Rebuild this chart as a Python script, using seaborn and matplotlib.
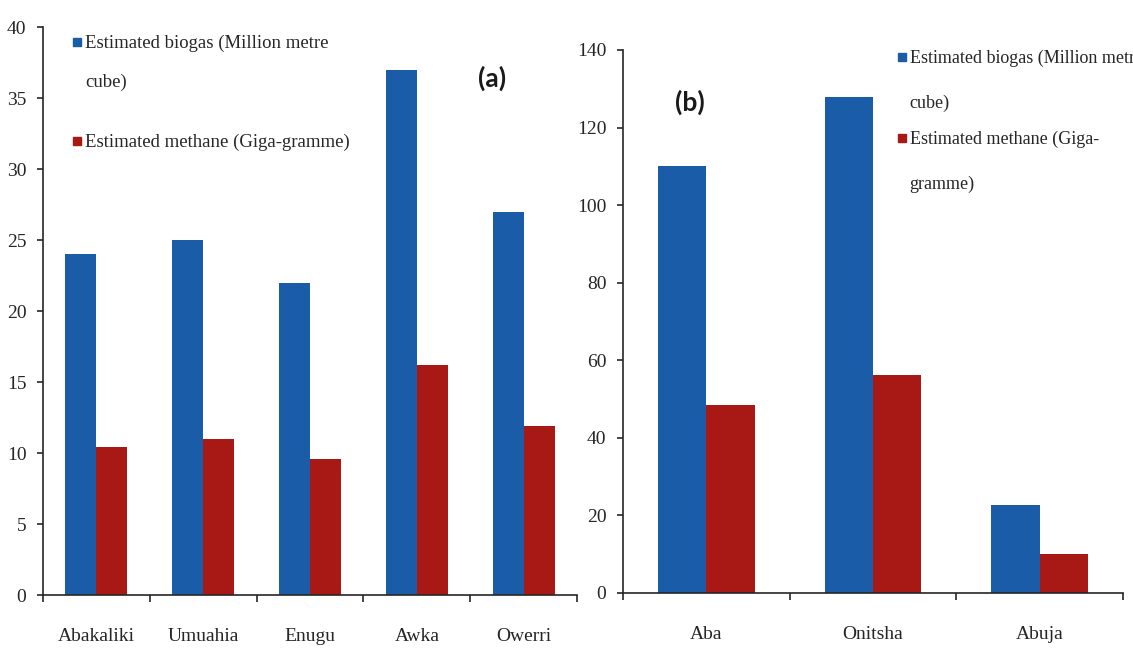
import pandas as pd
import matplotlib.pyplot as plt
import seaborn as sns

# panel (a)
cities_a = ['Abakaliki', 'Umuahia', 'Enugu', 'Awka', 'Owerri']
biogas_a = [24, 25, 22, 37, 27]
methane_a = [10.4, 11.0, 9.6, 16.2, 11.9]

# panel (b)
cities_b = ['Aba', 'Onitsha', 'Abuja']
biogas_b = [110, 128, 22.7]
methane_b = [48.5, 56.2, 10]

series = ['biogas', 'methane']
colors = ['#1a5ca8', '#a81815']
serif = 'Liberation Serif'


def make_frame(cities, biogas, methane):
    rows = []
    for c, b, m in zip(cities, biogas, methane):
        rows.append({'city': c, 'series': 'biogas', 'value': b})
        rows.append({'city': c, 'series': 'methane', 'value': m})
    return pd.DataFrame(rows)


def draw_panel(ax, df, cities, ymax, ystep, width):
    sns.barplot(data=df, x='city', y='value', hue='series', hue_order=series,
                palette=colors, width=width, ax=ax, legend=False, saturation=1,
                linewidth=0)
    n = len(cities)
    ax.set_xlim(-0.5, n - 0.5)
    ax.set_ylim(0, ymax)
    ax.set_yticks(range(0, ymax + 1, ystep))
    ax.set_xticks([i - 0.5 for i in range(n + 1)])
    ax.set_xticklabels([])
    ax.set_xticks(range(n), cities, minor=True)
    ax.tick_params(axis='x', which='minor', length=0, pad=24)
    ax.tick_params(axis='x', which='major', length=5, direction='out', width=1.2)
    ax.tick_params(axis='y', length=4, width=1.2, direction='out', pad=8)
    for lab in ax.get_xticklabels(minor=True) + ax.get_yticklabels():
        lab.set_fontfamily(serif)
        lab.set_fontsize(14)
    ax.set_xlabel('')
    ax.set_ylabel('')
    for s in ['left', 'bottom']:
        ax.spines[s].set_linewidth(1.2)
    sns.despine(ax=ax)


def draw_key(ax, x, ys, labels, size, spacing):
    for y, lab, col in zip(ys, labels, colors):
        ax.plot([x], [y - 0.013], marker='s', markersize=5.5, color=col,
                transform=ax.transAxes, clip_on=False)
        ax.text(x + 0.015, y, lab, transform=ax.transAxes, va='top', ha='left',
                fontfamily=serif, fontsize=size, linespacing=spacing, clip_on=False)


sns.set_style('ticks')
fig = plt.figure(figsize=(11.33, 6.49), dpi=100)
ax1 = fig.add_axes([0.038, 0.0832, 0.4713, 0.875])
ax2 = fig.add_axes([0.5499, 0.0863, 0.4413, 0.8367])

draw_panel(ax1, make_frame(cities_a, biogas_a, methane_a), cities_a, 40, 5, 0.58)
draw_panel(ax2, make_frame(cities_b, biogas_b, methane_b), cities_b, 140, 20, 0.58)

draw_key(ax1, 0.064, [0.986, 0.812],
         ['Estimated biogas (Million metre\ncube)', 'Estimated methane (Giga-gramme)'],
         13.5, 2.6)
draw_key(ax2, 0.558, [1.0, 0.851],
         ['Estimated biogas (Million metre\ncube)', 'Estimated methane (Giga-\ngramme)'],
         13, 3.07)

ax1.text(0.84, 0.91, '(a)', transform=ax1.transAxes, ha='center', va='center',
         fontsize=19, fontweight='bold', fontfamily='Lato', color='#1a1a1a')
ax2.text(0.134, 0.904, '(b)', transform=ax2.transAxes, ha='center', va='center',
         fontsize=19, fontweight='bold', fontfamily='Lato', color='#1a1a1a')

fig.savefig('out.png', dpi=100)
